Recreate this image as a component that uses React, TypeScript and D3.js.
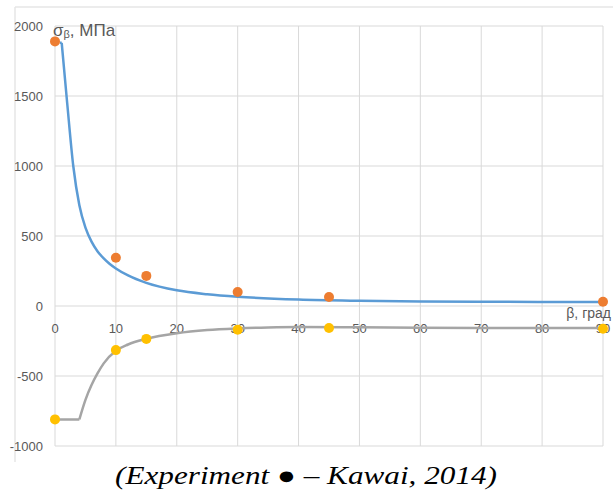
import React from "react";
import * as d3 from "d3";

// Kawai fit (blue) and experiment (orange)
const betaUpper = [0.8, 1.1, 2, 3, 4, 5, 6, 7, 8, 9, 10, 12, 15, 20, 25, 30, 40, 50, 60, 70, 80, 90];
const sigmaUpper = [1880, 1880, 1450, 1000, 720, 560, 460, 390, 340, 300, 268, 218, 165, 112, 84, 66, 46, 37, 32, 30, 29, 28];
const betaUpperExp = [0, 10, 15, 30, 45, 90];
const sigmaUpperExp = [1890, 345, 215, 100, 64, 30];

// compression branch (gray) and experiment (yellow)
const betaLower = [0, 4, 5, 6, 7, 8, 10, 12, 15, 20, 25, 30, 35, 40, 50, 60, 70, 80, 90];
const sigmaLower = [-810, -810, -670, -565, -480, -410, -320, -275, -235, -195, -172, -160, -153, -150, -152, -155, -157, -157, -158];
const betaLowerExp = [0, 10, 15, 30, 45, 90];
const sigmaLowerExp = [-810, -315, -235, -170, -157, -163];

const xTicks = [0, 10, 20, 30, 40, 50, 60, 70, 80, 90];
const yTicks = [-1000, -500, 0, 500, 1000, 1500, 2000];

const W = 613, H = 495;
const left = 55, right = 603, top = 26, bottom = 446;
const tickFont = "'Liberation Sans Narrow', 'Arial Narrow', Arial, sans-serif";
const labelColor = "#595959";
const gridColor = "#d9d9d9";

export default function App() {
    const x = d3.scaleLinear().domain([0, 90]).range([left, right]);
    const y = d3.scaleLinear().domain([-1000, 2000]).range([bottom, top]);

    const pts = (bs: number[], ss: number[]) => bs.map((b, i) => [b, ss[i]] as [number, number]);
    const straight = d3.line<[number, number]>().x(d => x(d[0])).y(d => y(d[1]));
    const smooth = d3.line<[number, number]>().x(d => x(d[0])).y(d => y(d[1])).curve(d3.curveMonotoneX);

    const upper = pts(betaUpper, sigmaUpper);
    const lower = pts(betaLower, sigmaLower);
    // sharp corner at the end of the flat part, smooth after it
    const upperPath = (straight(upper.slice(0, 2)) || "") + (smooth(upper.slice(1)) || "");
    const lowerPath = (straight(lower.slice(0, 2)) || "") + (smooth(lower.slice(1)) || "");

    return (
        <div style={{ position: "absolute", left: 0, top: 0 }}>
            <svg width={W} height={H} style={{ display: "block", background: "#fff" }}>
                {/* outer chart frame */}
                <line x1={15} x2={W} y1={7} y2={7} stroke="#e6e6e6" strokeWidth={1.5} />
                <line x1={15} x2={15} y1={7} y2={462} stroke="#e6e6e6" strokeWidth={1.5} />

                {/* grid */}
                {yTicks.map(t => (
                    <line key={"gy" + t} x1={left} x2={right} y1={y(t)} y2={y(t)} stroke={gridColor} strokeWidth={1} />
                ))}
                {xTicks.map(t => (
                    <line key={"gx" + t} x1={x(t)} x2={x(t)} y1={top} y2={bottom} stroke={gridColor} strokeWidth={1} />
                ))}

                {/* tick labels */}
                {yTicks.map(t => (
                    <text key={"ty" + t} x={43} y={y(t)} dy="0.35em" textAnchor="end"
                        fontFamily={tickFont} fontSize={13} fill={labelColor}>{t}</text>
                ))}
                {xTicks.map(t => (
                    <text key={"tx" + t} x={x(t)} y={y(0) + 22} dy="0.35em" textAnchor="middle"
                        fontFamily={tickFont} fontSize={13} fill={labelColor}>{t}</text>
                ))}

                {/* axis titles */}
                <text x={53} y={36} fontFamily={tickFont} fontSize={17} fill={labelColor}>
                    σ<tspan fontSize={11} dy={2}>β</tspan><tspan dy={-2}>, МПа</tspan>
                </text>
                <text x={611} y={318} textAnchor="end" fontFamily={tickFont} fontSize={14} fill={labelColor}>β, град</text>

                {/* curves */}
                <path d={upperPath} fill="none" stroke="#5b9bd5" strokeWidth={2.5} />
                <path d={lowerPath} fill="none" stroke="#a5a5a5" strokeWidth={2.5} />

                {/* experimental points */}
                {betaUpperExp.map((b, i) => (
                    <circle key={"ou" + b} cx={x(b)} cy={y(sigmaUpperExp[i])} r={5} fill="#ed7d31" />
                ))}
                {betaLowerExp.map((b, i) => (
                    <circle key={"ol" + b} cx={x(b)} cy={y(sigmaLowerExp[i])} r={5} fill="#ffc000" />
                ))}

                {/* caption */}
                <text x={115} y={484} fontFamily="'Liberation Serif', serif" fontStyle="italic" fontSize={25}
                    fill="#000" textLength={382} lengthAdjust="spacingAndGlyphs">
                    (Experiment <tspan fontStyle="normal">●</tspan> – Kawai, 2014)
                </text>
            </svg>
        </div>
    );
}
